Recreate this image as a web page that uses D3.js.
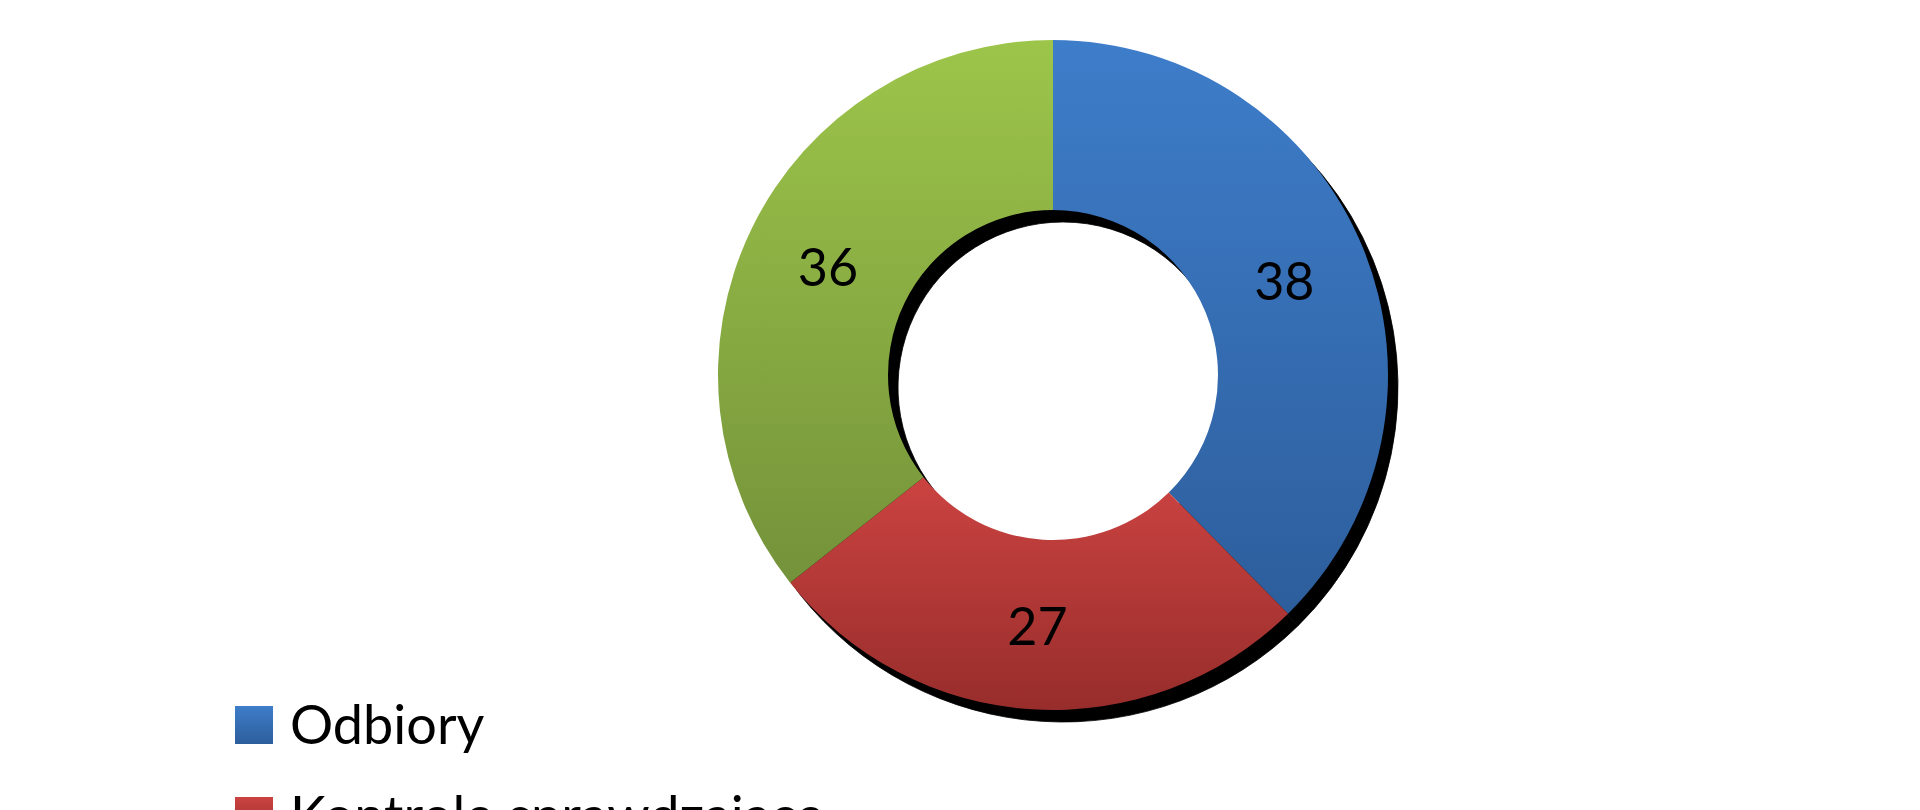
<!DOCTYPE html>
<html>
<head>
<meta charset="utf-8">
<script src="https://cdn.jsdelivr.net/npm/d3@7"></script>
<style>
  html, body { margin: 0; padding: 0; background: #ffffff; overflow: hidden; }
  svg { display: block; }
</style>
</head>
<body>
<svg id="chart" width="1920" height="810"></svg>
<script>
const categories = ["Odbiory", "Kontrole sprawdzające", "Kontrole interwencyjne"];
const values = [38, 27, 36];
const colorsTop = ["#3e7dca", "#cb4341", "#9dc54a"];
const colorsBottom = ["#2d5e9c", "#972d2b", "#74923a"];

const svg = d3.select("#chart");
const cx = 1053, cy = 375, outerR = 335, innerR = 165;
const fontFamily = "Lato, 'Open Sans', 'DejaVu Sans', sans-serif";

const defs = svg.append("defs");
categories.forEach((c, i) => {
  const g = defs.append("linearGradient")
    .attr("id", "grad" + i)
    .attr("x1", 0).attr("y1", 0).attr("x2", 0).attr("y2", 1);
  g.append("stop").attr("offset", "0%").attr("stop-color", colorsTop[i]);
  g.append("stop").attr("offset", "100%").attr("stop-color", colorsBottom[i]);
});

const pie = d3.pie().sort(null).value(d => d.value);
const data = pie(categories.map((c, i) => ({ name: c, value: values[i], i })));
const arc = d3.arc().innerRadius(innerR).outerRadius(outerR);

// shadow
svg.append("g")
  .attr("transform", `translate(${cx + 10},${cy + 12})`)
  .selectAll("path")
  .data(data)
  .join("path")
  .attr("d", arc)
  .attr("fill", "#000")
  .attr("stroke", "#000")
  .attr("stroke-width", 0.8);

const g = svg.append("g").attr("transform", `translate(${cx},${cy})`);
g.selectAll("path")
  .data(data)
  .join("path")
  .attr("d", arc)
  .attr("fill", d => `url(#grad${d.data.i})`);

g.selectAll("text")
  .data(data)
  .join("text")
  .attr("x", d => arc.centroid(d)[0])
  .attr("y", d => arc.centroid(d)[1])
  .attr("text-anchor", "middle")
  .attr("dominant-baseline", "central")
  .attr("font-family", fontFamily)
  .attr("font-size", 52)
  .attr("fill", "#000")
  .text(d => d.data.value);

// legend
const legend = svg.append("g").attr("transform", "translate(235,706)");
const items = legend.selectAll("g")
  .data(categories)
  .join("g")
  .attr("transform", (d, i) => `translate(0,${i * 91})`);
items.append("rect")
  .attr("width", 38).attr("height", 38)
  .attr("fill", (d, i) => `url(#grad${i})`);
items.append("text")
  .attr("x", 55).attr("y", 38)
  .attr("font-family", fontFamily)
  .attr("font-size", 54)
  .attr("fill", "#000")
  .text(d => d);
</script>
</body>
</html>
